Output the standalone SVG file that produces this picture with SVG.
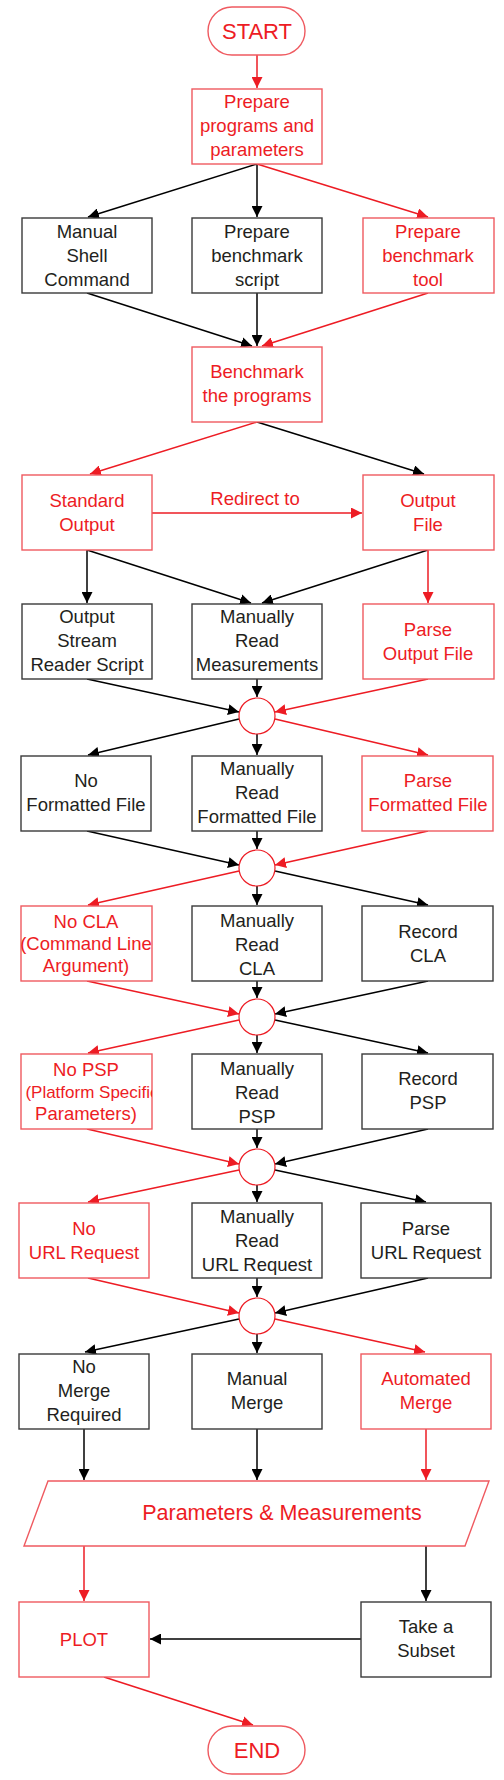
<svg xmlns="http://www.w3.org/2000/svg" width="504" height="1780" viewBox="0 0 504 1780">
<style>
text{font-family:"Liberation Sans",Arial,sans-serif;font-size:18.5px;text-anchor:middle}
.r text,text.r{fill:#ED1C24}
.k text,text.k{fill:#231F20}
.rb{fill:#fff;stroke:#EF5A60;stroke-width:1.4}
.kb{fill:#fff;stroke:#3a3a3a;stroke-width:1.4}
.cr{fill:#fff;stroke:#ED1C24;stroke-width:1.2}
.lr{stroke:#ED1C24;stroke-width:1.5;fill:none;marker-end:url(#ar)}
.lk{stroke:#000;stroke-width:1.5;fill:none;marker-end:url(#ak)}
</style>
<defs>
<marker id="ar" viewBox="0 0 10 10" refX="10" refY="5" markerUnits="userSpaceOnUse" markerWidth="11" markerHeight="11" orient="auto"><path d="M0,0 L10,5 L0,10 z" fill="#ED1C24"/></marker>
<marker id="ak" viewBox="0 0 10 10" refX="10" refY="5" markerUnits="userSpaceOnUse" markerWidth="11" markerHeight="11" orient="auto"><path d="M0,0 L10,5 L0,10 z" fill="#000"/></marker>
<clipPath id="cpsp"><rect x="19" y="1054" width="133" height="75"/></clipPath>
</defs>
<rect width="504" height="1780" fill="#fff"/>
<g id="connectors">
<line class="lr" x1="257" y1="55" x2="257" y2="88"/>
<line class="lk" x1="257" y1="164" x2="88" y2="217"/>
<line class="lk" x1="257" y1="164" x2="257" y2="217"/>
<line class="lr" x1="257" y1="164" x2="428" y2="217"/>
<line class="lk" x1="87" y1="293" x2="252" y2="346"/>
<line class="lk" x1="257" y1="293" x2="257" y2="346"/>
<line class="lr" x1="428" y1="293" x2="262" y2="346"/>
<line class="lr" x1="257" y1="422" x2="90" y2="474"/>
<line class="lk" x1="257" y1="422" x2="424" y2="474"/>
<line class="lr" x1="152" y1="513" x2="362" y2="513"/>
<text class="r" x="255" y="505">Redirect to</text>
<line class="lk" x1="87" y1="550" x2="87" y2="603"/>
<line class="lk" x1="87" y1="550" x2="251" y2="603"/>
<line class="lk" x1="428" y1="550" x2="262" y2="603"/>
<line class="lr" x1="428" y1="550" x2="428" y2="603"/>
<line class="lk" x1="87" y1="679" x2="239" y2="712"/>
<line class="lk" x1="257" y1="679" x2="257" y2="697"/>
<line class="lr" x1="428" y1="679" x2="275" y2="712"/>
<line class="lk" x1="239" y1="719" x2="88" y2="755"/>
<line class="lk" x1="257" y1="734" x2="257" y2="755"/>
<line class="lr" x1="275" y1="719" x2="428" y2="755"/>
<line class="lk" x1="87" y1="831" x2="239" y2="865"/>
<line class="lk" x1="257" y1="831" x2="257" y2="849"/>
<line class="lr" x1="428" y1="831" x2="275" y2="865"/>
<line class="lr" x1="239" y1="871" x2="88" y2="905"/>
<line class="lk" x1="257" y1="886" x2="257" y2="905"/>
<line class="lk" x1="275" y1="871" x2="428" y2="905"/>
<line class="lr" x1="87" y1="981" x2="239" y2="1014"/>
<line class="lk" x1="257" y1="981" x2="257" y2="998"/>
<line class="lk" x1="428" y1="981" x2="275" y2="1014"/>
<line class="lr" x1="239" y1="1020" x2="88" y2="1053"/>
<line class="lk" x1="257" y1="1035" x2="257" y2="1053"/>
<line class="lk" x1="275" y1="1020" x2="428" y2="1053"/>
<line class="lr" x1="87" y1="1129" x2="239" y2="1164"/>
<line class="lk" x1="257" y1="1129" x2="257" y2="1148"/>
<line class="lk" x1="428" y1="1129" x2="275" y2="1164"/>
<line class="lr" x1="239" y1="1170" x2="88" y2="1202"/>
<line class="lk" x1="257" y1="1185" x2="257" y2="1202"/>
<line class="lk" x1="275" y1="1170" x2="426" y2="1202"/>
<line class="lr" x1="88" y1="1278" x2="239" y2="1313"/>
<line class="lk" x1="257" y1="1278" x2="257" y2="1297"/>
<line class="lk" x1="428" y1="1278" x2="275" y2="1313"/>
<line class="lk" x1="239" y1="1319" x2="85" y2="1352"/>
<line class="lk" x1="257" y1="1334" x2="257" y2="1353"/>
<line class="lr" x1="275" y1="1319" x2="425" y2="1352"/>
<line class="lk" x1="84" y1="1429" x2="84" y2="1480"/>
<line class="lk" x1="257" y1="1429" x2="257" y2="1480"/>
<line class="lr" x1="426" y1="1429" x2="426" y2="1480"/>
<line class="lr" x1="84" y1="1546" x2="84" y2="1601"/>
<line class="lk" x1="426" y1="1546" x2="426" y2="1601"/>
<line class="lk" x1="361" y1="1639" x2="150" y2="1639"/>
<line class="lr" x1="104" y1="1677" x2="253" y2="1725"/>
</g>
<g id="start" class="r"><rect class="rb" x="208" y="7" width="97" height="48" rx="24"/><text x="257" y="39" style="font-size:22px">START</text></g>
<g id="prepare" class="r"><rect class="rb" x="192" y="89" width="130" height="75"/><text x="257" y="108">Prepare</text><text x="257" y="132">programs and</text><text x="257" y="156">parameters</text></g>
<g id="manual-shell" class="k"><rect class="kb" x="22" y="218" width="130" height="75"/><text x="87" y="238">Manual</text><text x="87" y="262">Shell</text><text x="87" y="286">Command</text></g>
<g id="prep-script" class="k"><rect class="kb" x="192" y="218" width="130" height="75"/><text x="257" y="238">Prepare</text><text x="257" y="262">benchmark</text><text x="257" y="286">script</text></g>
<g id="prep-tool" class="r"><rect class="rb" x="363" y="218" width="131" height="75"/><text x="428" y="238">Prepare</text><text x="428" y="262">benchmark</text><text x="428" y="286">tool</text></g>
<g id="benchmark" class="r"><rect class="rb" x="192" y="347" width="130" height="75"/><text x="257" y="378">Benchmark</text><text x="257" y="402">the programs</text></g>
<g id="std-output" class="r"><rect class="rb" x="22" y="475" width="130" height="75"/><text x="87" y="507">Standard</text><text x="87" y="531">Output</text></g>
<g id="output-file" class="r"><rect class="rb" x="363" y="475" width="131" height="75"/><text x="428" y="507">Output</text><text x="428" y="531">File</text></g>
<g id="osr" class="k"><rect class="kb" x="22" y="604" width="130" height="75"/><text x="87" y="623">Output</text><text x="87" y="647">Stream</text><text x="87" y="671">Reader Script</text></g>
<g id="mrm" class="k"><rect class="kb" x="192" y="604" width="130" height="75"/><text x="257" y="623">Manually</text><text x="257" y="647">Read</text><text x="257" y="671">Measurements</text></g>
<g id="parse-output" class="r"><rect class="rb" x="363" y="604" width="131" height="75"/><text x="428" y="636">Parse</text><text x="428" y="660">Output File</text></g>
<g id="c1"><circle class="cr" cx="257" cy="716" r="18"/></g>
<g id="no-fmt" class="k"><rect class="kb" x="21" y="756" width="130" height="75"/><text x="86" y="787">No</text><text x="86" y="811">Formatted File</text></g>
<g id="mrff" class="k"><rect class="kb" x="192" y="756" width="130" height="75"/><text x="257" y="775">Manually</text><text x="257" y="799">Read</text><text x="257" y="823">Formatted File</text></g>
<g id="parse-ff" class="r"><rect class="rb" x="362" y="756" width="131" height="75"/><text x="428" y="787">Parse</text><text x="428" y="811">Formatted File</text></g>
<g id="c2"><circle class="cr" cx="257" cy="868" r="18"/></g>
<g id="no-cla" class="r"><rect class="rb" x="21" y="906" width="131" height="75"/><text x="86" y="928">No CLA</text><text x="86" y="950">(Command Line</text><text x="86" y="972">Argument)</text></g>
<g id="mrcla" class="k"><rect class="kb" x="192" y="906" width="130" height="75"/><text x="257" y="927">Manually</text><text x="257" y="951">Read</text><text x="257" y="975">CLA</text></g>
<g id="rec-cla" class="k"><rect class="kb" x="362" y="906" width="131" height="75"/><text x="428" y="938">Record</text><text x="428" y="962">CLA</text></g>
<g id="c3"><circle class="cr" cx="257" cy="1017" r="18"/></g>
<g id="no-psp" class="r"><rect class="rb" x="21" y="1054" width="131" height="75"/><text x="86" y="1076">No PSP</text><text x="92" y="1098" style="font-size:17px" clip-path="url(#cpsp)">(Platform Specific</text><text x="86" y="1120">Parameters)</text></g>
<g id="mrpsp" class="k"><rect class="kb" x="192" y="1054" width="130" height="75"/><text x="257" y="1075">Manually</text><text x="257" y="1099">Read</text><text x="257" y="1123">PSP</text></g>
<g id="rec-psp" class="k"><rect class="kb" x="362" y="1054" width="131" height="75"/><text x="428" y="1085">Record</text><text x="428" y="1109">PSP</text></g>
<g id="c4"><circle class="cr" cx="257" cy="1167" r="18"/></g>
<g id="no-url" class="r"><rect class="rb" x="19" y="1203" width="130" height="75"/><text x="84" y="1235">No</text><text x="84" y="1259">URL Request</text></g>
<g id="mrurl" class="k"><rect class="kb" x="192" y="1203" width="130" height="75"/><text x="257" y="1223">Manually</text><text x="257" y="1247">Read</text><text x="257" y="1271">URL Request</text></g>
<g id="parse-url" class="k"><rect class="kb" x="361" y="1203" width="130" height="75"/><text x="426" y="1235">Parse</text><text x="426" y="1259">URL Request</text></g>
<g id="c5"><circle class="cr" cx="257" cy="1316" r="18"/></g>
<g id="no-merge" class="k"><rect class="kb" x="19" y="1354" width="130" height="75"/><text x="84" y="1373">No</text><text x="84" y="1397">Merge</text><text x="84" y="1421">Required</text></g>
<g id="manual-merge" class="k"><rect class="kb" x="192" y="1354" width="130" height="75"/><text x="257" y="1385">Manual</text><text x="257" y="1409">Merge</text></g>
<g id="auto-merge" class="r"><rect class="rb" x="361" y="1354" width="130" height="75"/><text x="426" y="1385">Automated</text><text x="426" y="1409">Merge</text></g>
<g id="params" class="r"><polygon class="rb" points="48,1481 489,1481 465,1546 24,1546"/><text x="282" y="1520" style="font-size:21.5px">Parameters &amp; Measurements</text></g>
<g id="plot" class="r"><rect class="rb" x="19" y="1602" width="130" height="75"/><text x="84" y="1646">PLOT</text></g>
<g id="subset" class="k"><rect class="kb" x="361" y="1602" width="130" height="75"/><text x="426" y="1633">Take a</text><text x="426" y="1657">Subset</text></g>
<g id="end" class="r"><rect class="rb" x="208" y="1726" width="97" height="48" rx="24"/><text x="257" y="1758" style="font-size:22px">END</text></g>
</svg>
